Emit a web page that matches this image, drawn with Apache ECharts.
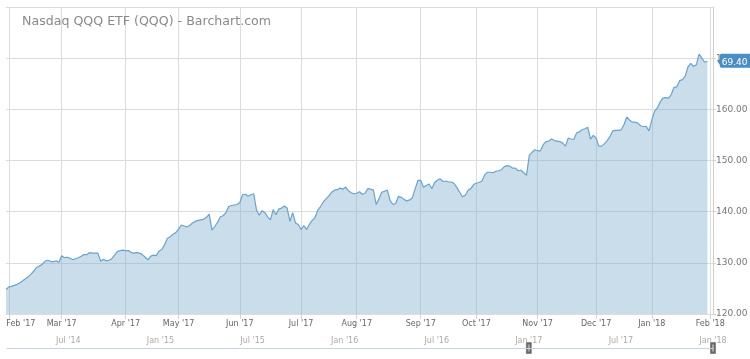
<!DOCTYPE html>
<html><head><meta charset="utf-8">
<script src="https://cdn.jsdelivr.net/npm/echarts@6/dist/echarts.min.js"></script>
<style>html,body{margin:0;padding:0;background:#fff}#c{width:750px;height:359px}</style>
</head><body><div id="c"></div>
<script>
const titleText = 'Nasdaq QQQ ETF (QQQ) - Barchart.com';
const monthNames = ['Jan','Feb','Mar','Apr','May','Jun','Jul','Aug','Sep','Oct','Nov','Dec'];
// market holidays skipped by the trading-day axis
const holidays = ['2017-02-20','2017-04-14','2017-05-29','2017-07-04','2017-09-04','2017-11-23','2017-12-25','2018-01-01','2018-01-15'];
const axisStart = '2017-01-31';
const axisEnd = '2018-02-02';
// closing prices, one per trading day, by month
const jan17 = [124.8];
const feb17 = [125.3,125.4,125.6,125.8,126.1,126.5,126.9,127.3,127.8,128.4,129.1,129.4,129.7,130.3,130.5,130.3,130.2,130.4,130.1];
const mar17 = [131.4,131.0,131.1,130.9,130.6,130.8,131.0,131.3,131.6,131.6,132.0,131.9,131.9,131.9,130.3,130.7,130.4,130.5,130.8,131.5,132.2,132.4,132.5];
const apr17 = [132.4,132.4,132.0,131.9,132.0,131.9,131.6,131.1,130.6,131.3,131.5,131.4,132.3,132.6,133.6,134.8,135.1,135.6,135.9];
const may17 = [136.6,137.4,137.2,137.0,137.3,137.8,138.1,138.3,138.4,138.5,138.9,139.5,136.4,137.1,137.9,139.0,139.2,139.8,141.0,141.2,141.3,141.4];
const jun17 = [141.8,143.3,143.4,143.0,143.3,143.5,140.3,139.3,140.2,139.8,139.0,138.4,140.4,139.4,140.5,140.7,141.1,140.7,138.1,139.8,137.8,137.5];
const jul17 = [136.5,137.3,136.5,137.5,138.3,138.8,140.3,141.0,141.9,142.5,143.1,143.8,144.2,144.3,144.6,144.4,144.8,144.1,143.7,143.5];
const aug17 = [143.6,143.9,143.4,143.6,144.5,144.4,144.2,141.4,142.5,143.8,144.0,144.2,142.2,141.4,141.6,143.0,142.8,142.4,142.1,142.3,142.7,144.5,146.1];
const sep17 = [146.1,144.8,145.1,145.4,144.5,145.7,146.2,146.4,145.9,146.0,145.8,145.8,145.5,144.7,143.8,142.9,143.2,144.2,144.5,145.3];
const oct17 = [145.6,145.7,146.0,147.2,147.7,147.7,147.6,147.9,148.0,148.2,148.8,149.0,148.9,148.5,148.5,148.0,148.1,147.6,147.1,151.0,151.6,152.1];
const nov17 = [151.9,151.9,153.1,153.7,153.8,154.2,153.9,153.8,153.7,153.4,152.8,154.4,154.2,154.1,155.4,155.6,156.0,156.2,156.5,154.2,154.9];
const dec17 = [154.4,152.8,152.8,153.3,153.9,154.7,155.8,155.9,155.9,156.0,157.0,158.5,157.9,157.5,157.5,157.3,156.8,156.6,156.7,155.8];
const jan18 = [157.9,159.6,160.3,161.4,162.2,162.3,162.2,162.9,164.3,164.4,165.6,165.8,166.5,168.3,169.0,168.4,168.7,170.8,170.0,169.2,169.4];
const yMin = 120, yMax = 180, yStep = 10;
// navigator (overview) months
const navStart = [2014, 2], navEnd = [2018, 0];
const navHandles = ['2017-01', '2018-01'];

const values = [].concat(jan17, feb17, mar17, apr17, may17, jun17, jul17, aug17, sep17, oct17, nov17, dec17, jan18);

const tradingDates = [];
(function () {
  const s = Date.parse(axisStart + 'T00:00:00Z'), e = Date.parse(axisEnd + 'T00:00:00Z');
  for (let t = s; t <= e; t += 86400000) {
    const d = new Date(t), wd = d.getUTCDay(), iso = d.toISOString().slice(0, 10);
    if (wd === 0 || wd === 6 || holidays.includes(iso)) continue;
    tradingDates.push(iso);
  }
})();
const firstOfMonth = new Set();
tradingDates.forEach((d, i) => { if (i > 0 && d.slice(0, 7) !== tradingDates[i - 1].slice(0, 7)) firstOfMonth.add(i); });
const firstLabelIdx = Math.min.apply(null, Array.from(firstOfMonth));
const monthFmt = (ym) => monthNames[+ym.slice(5, 7) - 1] + " '" + ym.slice(2, 4);

const navMonths = [];
for (let y = navStart[0], m = navStart[1]; y < navEnd[0] || (y === navEnd[0] && m <= navEnd[1]); m++) {
  if (m > 11) { m = 0; y++; }
  navMonths.push(y + '-' + String(m + 1).padStart(2, '0'));
}

const chart = echarts.init(document.getElementById('c'), null, { renderer: 'canvas' });
const FONT = 'DejaVu Sans';
const lastVal = values[values.length - 1];
const BADGE = '#4a8fc3';

chart.setOption({
  animation: false,
  backgroundColor: '#fff',
  textStyle: { fontFamily: FONT },
  title: {
    text: titleText, left: 17, top: 10,
    textStyle: { fontSize: 12.6, fontWeight: 'normal', color: '#8a8a8a', fontFamily: FONT }
  },
  grid: [
    { left: 6, right: 37, top: 7, bottom: 45, outerBoundsMode: 'none' },
    { left: 7, right: 37, top: 347, height: 1, outerBoundsMode: 'none' }
  ],
  xAxis: [
    {
      type: 'category', gridIndex: 0, data: tradingDates, boundaryGap: false,
      axisLine: { show: true, lineStyle: { color: '#dcdcdc' } },
      axisTick: { show: true, length: 5, interval: (i) => firstOfMonth.has(i), lineStyle: { color: '#d4d4d4' } },
      axisLabel: {
        interval: (i) => firstOfMonth.has(i),
        formatter: (v, i) => i === firstLabelIdx ? '{f|' + monthFmt(v) + '}' : monthFmt(v),
        rich: { f: { fontSize: 8, color: '#666', fontFamily: FONT, padding: [0, 0, 0, 24] } },
        fontSize: 8, color: '#666', margin: 6, fontFamily: FONT
      },
      splitLine: { show: true, interval: (i) => firstOfMonth.has(i), lineStyle: { color: '#dcdcdc', width: 1 } }
    },
    {
      type: 'category', gridIndex: 1, data: navMonths, boundaryGap: false,
      axisLine: { show: true, lineStyle: { color: '#c8d3de', width: 1 } },
      axisTick: { show: false },
      axisLabel: { inside: true, margin: 3, fontSize: 8, color: '#aaa', fontFamily: FONT,
        interval: (i, v) => v.slice(5) === '01' || v.slice(5) === '07', formatter: (v) => monthFmt(v) },
      splitLine: { show: false }
    }
  ],
  yAxis: [
    {
      type: 'value', gridIndex: 0, position: 'right', min: yMin, max: yMax, interval: yStep,
      axisLine: { show: true, lineStyle: { color: '#cfcfcf' } },
      axisTick: { show: true, length: 3, lineStyle: { color: '#cfcfcf' } },
      axisLabel: { formatter: (v) => v.toFixed(2), fontSize: 9, color: '#777', margin: 3, showMaxLabel: false, fontFamily: FONT },
      splitLine: { show: true, lineStyle: { color: '#dcdcdc', width: 1 } }
    },
    { type: 'value', gridIndex: 1, show: false }
  ],
  series: [{
    type: 'line', xAxisIndex: 0, yAxisIndex: 0, data: values, symbol: 'none',
    lineStyle: { color: '#6aa3cd', width: 1.2 },
    areaStyle: { color: 'rgba(120,170,205,0.4)', opacity: 1, origin: 'start' },
    markLine: {
      silent: true, symbol: ['none', 'none'], animation: false,
      lineStyle: { color: 'rgba(0,0,0,0)', width: 1, type: 'solid' },
      emphasis: { disabled: true },
      data: [{ yAxis: lastVal }],
      label: {
        show: true, position: 'end', distance: 1, offset: [0, -0.5],
        formatter: (p) => { const s = (+p.value).toFixed(2); return '{h|' + s.slice(0, 1) + '}{v|' + s.slice(1) + '}'; },
        rich: {
          h: { color: 'rgba(0,0,0,0)', fontSize: 9, fontFamily: FONT },
          v: { color: '#fff', backgroundColor: BADGE, fontSize: 9, lineHeight: 11, fontFamily: FONT, padding: [4, 5, 1, 2], borderRadius: 2 }
        }
      }
    }
  }]
});

const hx1 = chart.convertToPixel({ xAxisIndex: 1 }, navHandles[0]);
const hx2 = chart.convertToPixel({ xAxisIndex: 1 }, navHandles[1]);
const by = chart.convertToPixel({ yAxisIndex: 0 }, lastVal) + 0.5;
const handle = (x) => ({
  type: 'group', x: x, y: 348, children: [
    { type: 'rect', shape: { x: -2.5, y: -5.5, width: 5, height: 11 }, style: { fill: '#6a6a6a', stroke: '#555', lineWidth: 0.5 } },
    { type: 'rect', shape: { x: -1, y: -3.5, width: 2, height: 7 }, style: { fill: '#a8a8a8' } }
  ]
});
chart.setOption({ graphic: [
  handle(hx1), handle(hx2),
  { type: 'polygon', z: 100, shape: { points: [[717.5, by], [720.5, by - 3.5], [720.5, by + 3.5]] }, style: { fill: BADGE } }
] });
</script></body></html>
